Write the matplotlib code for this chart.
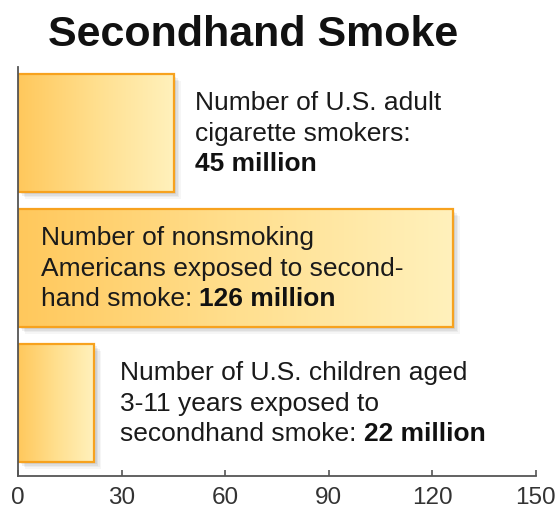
import matplotlib
matplotlib.use("Agg")
import matplotlib.pyplot as plt
import numpy as np
from matplotlib.colors import LinearSegmentedColormap
from matplotlib.patches import Rectangle
import matplotlib.transforms as mtransforms

plt.rcParams['font.family'] = ['Liberation Sans', 'DejaVu Sans']

# ---- data ----
categories = ["adult smokers", "nonsmokers exposed", "children exposed"]
values = [45, 126, 22]
label_lines = [
    ["Number of U.S. adult", "cigarette smokers:", ""],
    ["Number of nonsmoking", "Americans exposed to second-", "hand smoke: "],
    ["Number of U.S. children aged", "3-11 years exposed to", "secondhand smoke: "],
]
bold_parts = ["45 million", "126 million", "22 million"]
label_x = [51.2, 6.5, 29.5]
xticks = [0, 30, 60, 90, 120, 150]
title = "Secondhand Smoke"

W, H = 559, 509
fig = plt.figure(figsize=(W / 100, H / 100), dpi=100)
x0, x1 = 18.3, 535.7
y_top, y_bot = 67, 476
ax = fig.add_axes([x0 / W, 1 - y_bot / H, (x1 - x0) / W, (y_bot - y_top) / H])

cmap = LinearSegmentedColormap.from_list("g", ["#ffc85c", "#ffdf8e", "#fff1bc"])
grad = np.linspace(0, 1, 256).reshape(1, -1)
bar_h = 0.874

for i, v in enumerate(values):
    top = i - bar_h / 2
    # shadow
    for k, a in zip([7, 5.5, 4, 2.5], [0.035, 0.045, 0.055, 0.06]):
        tr = mtransforms.offset_copy(ax.transData, fig=fig, x=k * 0.72, y=-k * 0.72, units='points')
        ax.add_patch(Rectangle((0, top), v, bar_h, facecolor='#000000', alpha=a,
                               edgecolor='none', transform=tr, zorder=1))
    ax.imshow(grad, extent=(0, v, i + bar_h / 2, top), aspect='auto', cmap=cmap,
              zorder=2, interpolation='bilinear')
    ax.add_patch(Rectangle((0, top), v, bar_h, facecolor='none', edgecolor='#f7a21e',
                           linewidth=1.6, zorder=3))

# labels
fs = 19
dy = [-23, 8, 38]  # baseline offsets in pixels from bar center
for i, lines in enumerate(label_lines):
    for j, line in enumerate(lines):
        y = i + dy[j] / 135
        if j < 2:
            ax.text(label_x[i], y, line, fontsize=fs, color='#1a1a1a', va='baseline',
                    ha='left', zorder=5)
        else:
            if line:
                t = ax.text(label_x[i], y, line, fontsize=fs, color='#1a1a1a', va='baseline',
                            ha='left', zorder=5)
                ax.annotate(bold_parts[i], xy=(1, 0), xycoords=t, va='bottom', ha='left',
                            fontsize=fs, fontweight='bold', color='#111111', zorder=5)
            else:
                ax.text(label_x[i], y, bold_parts[i], fontsize=fs, fontweight='bold',
                        color='#111111', va='baseline', ha='left', zorder=5)

ax.set_xlim(0, 150)
ax.set_ylim(2.541, -0.489)
ax.set_xticks(xticks)
ax.set_xticklabels([str(t) for t in xticks])
ax.set_yticks([])
for s in ['top', 'right']:
    ax.spines[s].set_visible(False)
for s in ['left', 'bottom']:
    ax.spines[s].set_color('#555555')
    ax.spines[s].set_linewidth(1.3)
    ax.spines[s].set_zorder(4)
ax.tick_params(axis='x', direction='in', length=4.5, width=1.2, color='#555555',
               labelsize=17.5, labelcolor='#333333', pad=8)
ax.set_facecolor('white')

fig.text(253 / W, 1 - 46 / H, title, fontsize=31, fontweight='bold', ha='center',
         va='baseline', color='#111111')

fig.savefig("out.png", dpi=100)
